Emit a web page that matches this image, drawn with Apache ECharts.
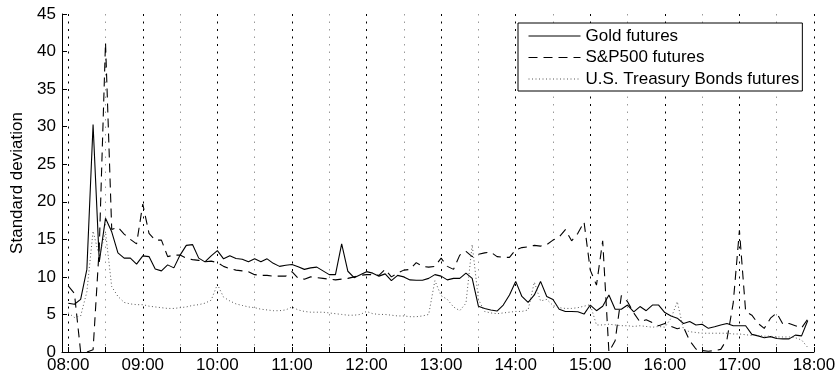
<!DOCTYPE html>
<html>
<head>
<meta charset="utf-8">
<script src="https://cdn.jsdelivr.net/npm/echarts@6/dist/echarts.min.js"></script>
<style>
html,body{margin:0;padding:0;background:#fff;}
#chart{width:839px;height:381px;}
</style>
</head>
<body>
<div id="chart"></div>
<script>
// ---- data ----
var times = [
"08:00","08:05","08:10","08:15","08:20","08:25","08:30","08:35","08:40","08:45","08:50","08:55",
"09:00","09:05","09:10","09:15","09:20","09:25","09:30","09:35","09:40","09:45","09:50","09:55",
"10:00","10:05","10:10","10:15","10:20","10:25","10:30","10:35","10:40","10:45","10:50","10:55",
"11:00","11:05","11:10","11:15","11:20","11:25","11:30","11:35","11:40","11:45","11:50","11:55",
"12:00","12:05","12:10","12:15","12:20","12:25","12:30","12:35","12:40","12:45","12:50","12:55",
"13:00","13:05","13:10","13:15","13:20","13:25","13:30","13:35","13:40","13:45","13:50","13:55",
"14:00","14:05","14:10","14:15","14:20","14:25","14:30","14:35","14:40","14:45","14:50","14:55",
"15:00","15:05","15:10","15:15","15:20","15:25","15:30","15:35","15:40","15:45","15:50","15:55",
"16:00","16:05","16:10","16:15","16:20","16:25","16:30","16:35","16:40","16:45","16:50","16:55",
"17:00","17:05","17:10","17:15","17:20","17:25","17:30","17:35","17:40","17:45","17:50","17:55"
];
var gold = [
6.5,6.35,7.0,11.0,30.3,12.0,17.8,16.0,13.2,12.5,12.5,11.7,
12.8,12.7,11.05,10.8,11.6,11.2,12.9,14.2,14.3,12.5,12.0,12.8,
13.5,12.4,12.8,12.45,12.35,12.0,12.4,12.0,12.4,11.8,11.4,11.55,
11.65,11.35,11.0,11.2,11.3,10.8,10.3,10.3,14.4,10.75,9.9,10.3,
10.7,10.5,10.1,10.4,9.5,10.2,10.0,9.6,9.55,9.55,9.8,10.3,
10.1,9.6,9.8,9.8,10.5,9.8,6.1,5.8,5.6,5.45,6.25,7.6,
9.4,7.4,6.6,7.6,9.4,7.4,7.0,5.7,5.4,5.4,5.35,5.05,
6.25,5.5,6.1,7.6,5.7,5.7,6.25,5.35,6.05,5.5,6.25,6.25,
5.25,4.8,4.5,3.8,4.05,3.6,3.7,3.15,3.35,3.6,3.8,3.5,
3.5,3.5,2.35,2.15,1.9,2.05,1.8,1.75,1.75,2.25,2.15,4.2
];
var sp500 = [
8.8,7.8,0,0,0.3,14,41.2,16.3,16.6,15.7,15.0,14.4,
19.7,15.8,14.9,14.9,12.7,12.9,12.9,12.5,12.3,12.2,12.0,12.1,
11.9,11.4,11.1,10.9,10.8,10.7,10.3,10.2,10.2,10.1,10.1,10.1,
10.7,9.8,9.7,10.0,9.9,9.8,9.7,9.6,9.7,9.8,10.0,10.2,
10.3,10.3,10.2,11.0,10.0,10.5,10.9,11.0,11.9,11.4,11.3,11.4,
12.5,11.4,11.0,12.9,13.4,12.7,13.0,13.2,13.3,12.7,12.6,12.6,
13.6,13.9,14.0,14.2,14.1,14.3,14.9,15.3,16.3,14.8,15.8,17.3,
10.9,8.9,14.8,0,1.5,7.5,6.7,5.2,4.0,4.3,3.9,3.5,
3.8,3.4,3.1,3.3,1.5,0.4,0.2,0.1,0.2,0.35,1.7,6.5,
16.2,5.4,4.9,3.8,3.15,4.5,5.2,3.7,3.8,3.5,3.2,4.4
];
var treasury = [
5.2,4.6,4.8,8.0,16.1,12.7,16.0,8.7,7.4,6.6,6.4,6.3,
6.3,6.1,6.0,5.9,5.8,5.8,5.9,6.0,6.2,6.3,6.5,6.9,
9.0,7.3,6.8,6.4,6.2,6.0,5.9,5.7,5.6,5.5,5.5,5.6,
6.0,5.6,5.4,5.3,5.3,5.3,5.2,5.1,5.0,4.9,4.9,5.0,
5.4,5.1,5.0,5.0,4.9,4.8,4.8,4.7,4.7,4.8,5.0,9.5,
7.5,7.0,6.0,5.5,6.5,14.3,7.0,5.4,5.2,5.1,5.2,5.3,
5.4,5.4,5.6,9.3,6.8,7.0,6.2,5.9,5.8,5.8,5.9,6.1,
6.3,3.6,3.6,3.7,3.6,3.5,3.5,3.4,3.5,3.4,3.3,3.4,
3.3,4.5,6.7,3.0,2.7,2.6,2.5,2.5,2.5,2.5,2.5,2.4,
2.4,2.3,2.2,2.2,2.1,2.1,2.0,2.0,2.0,1.9,1.6,0.6
];
var hourLabels = ["08:00","09:00","10:00","11:00","12:00","13:00","14:00","15:00","16:00","17:00","18:00"];
var halfHourTicks = ["08:00","08:30","09:00","09:30","10:00","10:30","11:00","11:30","12:00","12:30","13:00","13:30","14:00","14:30","15:00","15:30","16:00","16:30","17:00","17:30","18:00"];
var halfHourOnly = ["08:30","09:30","10:30","11:30","12:30","13:30","14:30","15:30","16:30","17:30"];
var xStart = "07:55", xEnd = "18:00";
var seriesNames = ["Gold futures","S&P500 futures","U.S. Treasury Bonds futures"];
var yName = "Standard deviation";

// ---- helpers ----
function toMin(t){ var p = t.split(":"); return (+p[0])*60 + (+p[1]); }
function fmt(v){ var h = Math.floor(v/60), m = Math.round(v%60); return (h<10?"0":"")+h+":"+(m<10?"0":"")+m; }
function pairs(vals){ return times.map(function(t,i){ return [toMin(t), vals[i]]; }); }

var FONT = "Liberation Sans";
var chart = echarts.init(document.getElementById("chart"), null, {renderer:"canvas"});
var xMin = toMin(xStart), xMax = toMin(xEnd);

function hiddenX(vals, color, dash){
  return {
    type:"value", min:xMin, max:xMax, position:"bottom",
    axisLine:{show:false}, axisLabel:{show:false},
    axisTick:{show:false, customValues: vals.map(toMin)},
    splitLine:{show:true, lineStyle:{color:color, width:1, type:dash}}
  };
}

chart.setOption({
  animation:false,
  backgroundColor:"#fff",
  grid:{left:62, right:25, top:14, bottom:29, containLabel:false},
  xAxis:[
    {
      type:"value", min:xMin, max:xMax, position:"bottom",
      axisLine:{show:true, onZero:false, lineStyle:{color:"#000", width:1}},
      axisTick:{show:true, inside:true, length:5, customValues: halfHourTicks.map(toMin), lineStyle:{color:"#000"}},
      axisLabel:{show:true, customValues: hourLabels.map(toMin), formatter:function(v){ return fmt(v); },
                 color:"#000", fontSize:17, fontFamily:FONT, margin:5},
      splitLine:{show:false}
    },
    hiddenX(halfHourOnly, "#9a9a9a", [1.5,6]),
    hiddenX(hourLabels, "#000", [2,5.5])
  ],
  yAxis:{
    type:"value", min:0, max:45, interval:5,
    name:yName, nameLocation:"middle", nameGap:30, nameRotate:90,
    nameTextStyle:{color:"#000", fontSize:17, fontFamily:FONT},
    axisLine:{show:true, lineStyle:{color:"#000", width:1}},
    axisTick:{show:true, inside:true, length:5, lineStyle:{color:"#000"}},
    axisLabel:{color:"#000", fontSize:17, fontFamily:FONT, margin:6},
    splitLine:{show:false}
  },
  legend:{
    orient:"vertical", left:518, top:23,
    padding:[4.5,3,3.5,10], itemGap:4.5, itemWidth:52, itemHeight:17,
    backgroundColor:"#fff", borderColor:"#000", borderWidth:1,
    itemStyle:{opacity:0},
    lineStyle:{width:1},
    textStyle:{color:"#000", fontSize:17, fontFamily:FONT, lineHeight:17},
    data:seriesNames
  },
  series:[
    {name:seriesNames[0], type:"line", xAxisIndex:0, symbol:"none", data:pairs(gold),
     lineStyle:{color:"#000", width:1.1, type:"solid"}, itemStyle:{color:"#000"}, z:3},
    {name:seriesNames[1], type:"line", xAxisIndex:0, symbol:"none", data:pairs(sp500),
     lineStyle:{color:"#000", width:1.1, type:[9,6]}, itemStyle:{color:"#000"}, z:3},
    {name:seriesNames[2], type:"line", xAxisIndex:0, symbol:"none", data:pairs(treasury),
     lineStyle:{color:"#555", width:1, type:[1,2.5]}, itemStyle:{color:"#555"}, z:3}
  ]
});
</script>
</body>
</html>
